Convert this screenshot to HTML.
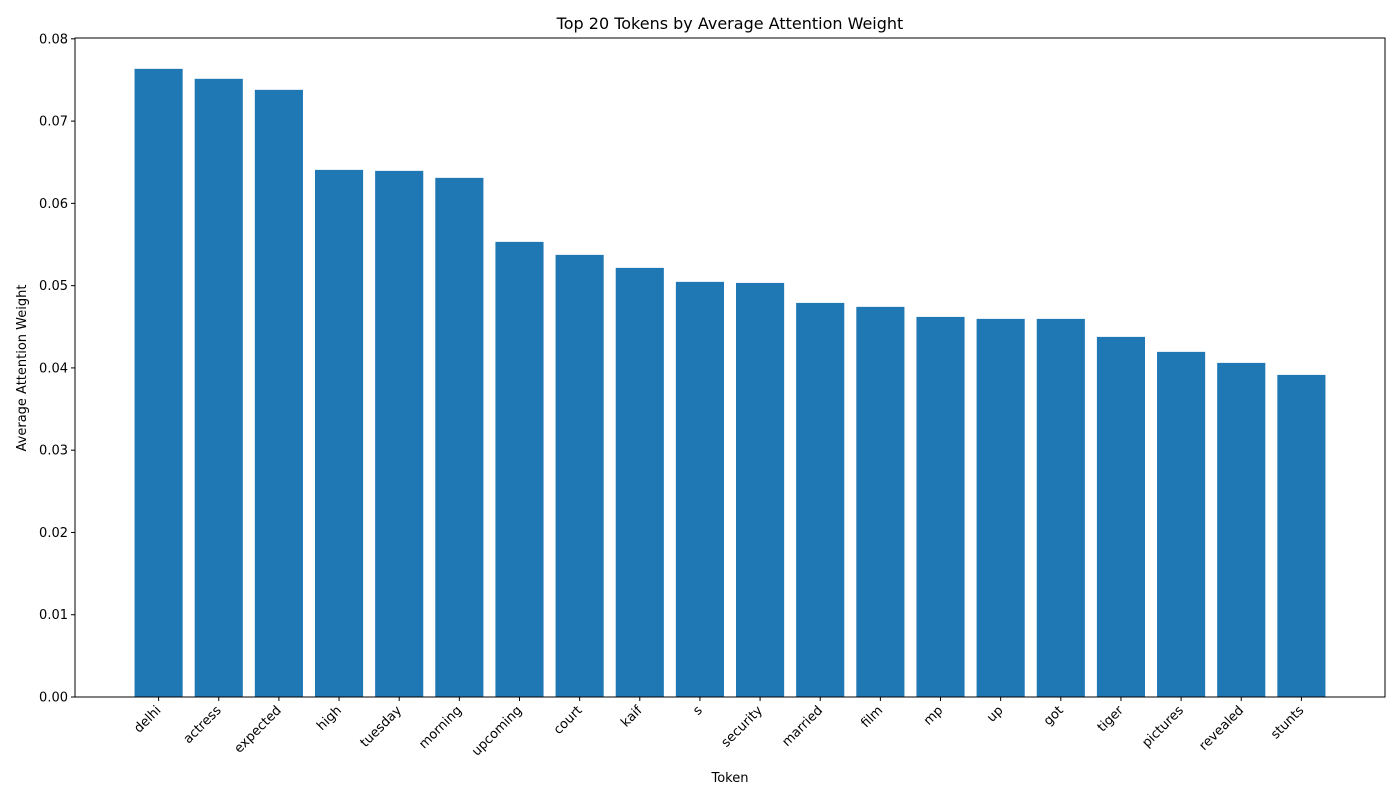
<!DOCTYPE html>
<html><head><meta charset="utf-8"><style>
body{margin:0;background:#fff;}
svg text{font-family:"DejaVu Sans","Liberation Sans",sans-serif;fill:#000;}
</style></head><body>
<svg id="chart" width="1400" height="800" xmlns="http://www.w3.org/2000/svg">
<rect width="1400" height="800" fill="#fff"/>
<text x="730" y="29" font-size="16" text-anchor="middle">Top 20 Tokens by Average Attention Weight</text>
<g id="bars"></g>
<g id="axes"></g>
<text x="730" y="782" font-size="13" text-anchor="middle">Token</text>
<text transform="translate(26,368) rotate(-90)" font-size="13" text-anchor="middle">Average Attention Weight</text>
</svg>
<script>
const categories=["delhi","actress","expected","high","tuesday","morning","upcoming","court","kaif","s","security","married","film","mp","up","got","tiger","pictures","revealed","stunts"];
const values=[0.07635,0.07514,0.0738,0.06407,0.06395,0.0631,0.05532,0.05374,0.05216,0.05046,0.05033,0.0479,0.04742,0.0462,0.04596,0.04596,0.04377,0.04195,0.04061,0.03915];
const yTicks=[0,0.01,0.02,0.03,0.04,0.05,0.06,0.07,0.08];
const yTickLabels=["0.00","0.01","0.02","0.03","0.04","0.05","0.06","0.07","0.08"];
const L=75,R=1385,T=38,B=697;
const n=categories.length;
const x0=-0.4-0.05*(n-1+0.8),x1=n-1+0.4+0.05*(n-1+0.8);
const xs=i=>L+(i-x0)/(x1-x0)*(R-L);
const ys=v=>B-(v/0.0801)*(B-T);
const ns="http://www.w3.org/2000/svg";
const bars=document.getElementById('bars'),axes=document.getElementById('axes');
function mk(tag,attrs,parent){const e=document.createElementNS(ns,tag);for(const k in attrs)e.setAttribute(k,attrs[k]);parent.appendChild(e);return e;}
const bw=(R-L)/(x1-x0)*0.8;
values.forEach((v,i)=>{
  const r=mk('rect',{x:xs(i)-bw/2,y:ys(v),width:bw,height:B-ys(v),fill:'#1f77b4'},bars);
  
  
  mk('line',{x1:xs(i),x2:xs(i),y1:B,y2:B+4,stroke:'#000','stroke-width':1},axes);
  const lb=mk('text',{x:0,y:0,'font-size':13,'text-anchor':'end',transform:`translate(${xs(i)+3},${B+14}) rotate(-45)`},axes);
  lb.textContent=categories[i];
  
  
});
yTicks.forEach((v,i)=>{
  const y=ys(v);
  mk('line',{x1:L-4,x2:L,y1:y,y2:y,stroke:'#000','stroke-width':1},axes);
  const lb=mk('text',{x:L-7,y:y+4.5,'font-size':13,'text-anchor':'end'},axes);
  lb.textContent=yTickLabels[i];
  
  
});
const fr=mk('rect',{x:L,y:T,width:R-L,height:B-T,fill:'none',stroke:'#000','stroke-width':1},axes);


</script>
</body></html>
